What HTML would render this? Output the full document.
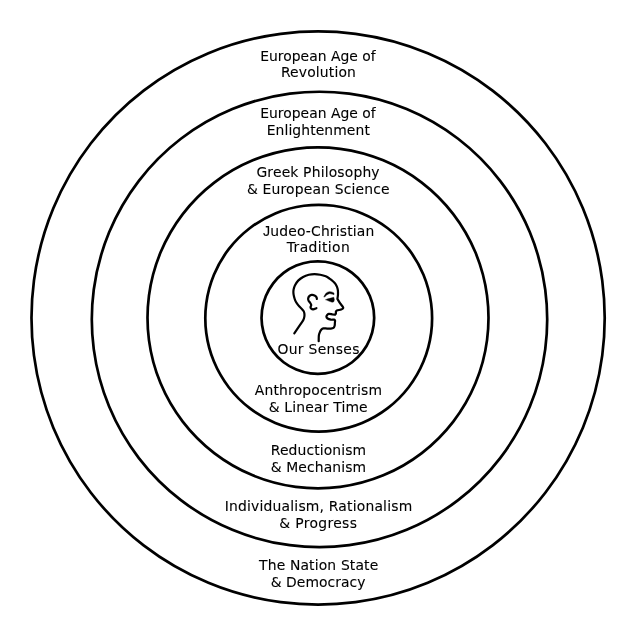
<!DOCTYPE html>
<html><head><meta charset="utf-8">
<style>
html,body{margin:0;padding:0;background:#fff;}
body{width:636px;height:636px;overflow:hidden;}
svg{display:block;will-change:transform;filter:grayscale(1);}
text{font-family:"DejaVu Sans","Liberation Sans",sans-serif;font-size:13.9px;fill:#000;stroke:#000;stroke-width:0.1px;}
</style></head><body>
<svg width="636" height="636" viewBox="0 0 636 636">
<rect width="636" height="636" fill="#fff"/>
<g fill="none" stroke="#000" stroke-width="2.7">
<path d="M602.25 355.41A286.60 286.60 0 0 1 582.88 427.68A286.60 286.60 0 0 1 545.48 492.47A286.60 286.60 0 0 1 492.57 545.38A286.60 286.60 0 0 1 427.78 582.78A286.60 286.60 0 0 1 355.51 602.15A286.60 286.60 0 0 1 280.69 602.15A286.60 286.60 0 0 1 208.42 582.78A286.60 286.60 0 0 1 143.63 545.38A286.60 286.60 0 0 1 90.72 492.47A286.60 286.60 0 0 1 53.32 427.68A286.60 286.60 0 0 1 33.95 355.41A286.60 286.60 0 0 1 33.95 280.59A286.60 286.60 0 0 1 53.32 208.32A286.60 286.60 0 0 1 90.72 143.53A286.60 286.60 0 0 1 143.63 90.62A286.60 286.60 0 0 1 208.42 53.22A286.60 286.60 0 0 1 280.69 33.85A286.60 286.60 0 0 1 355.51 33.85A286.60 286.60 0 0 1 427.78 53.22A286.60 286.60 0 0 1 492.57 90.62A286.60 286.60 0 0 1 545.48 143.53A286.60 286.60 0 0 1 582.88 208.32A286.60 286.60 0 0 1 602.25 280.59A286.60 286.60 0 0 1 602.25 355.41Z"/>
<path d="M545.25 349.17A227.70 227.70 0 0 1 529.87 406.59A227.70 227.70 0 0 1 500.15 458.06A227.70 227.70 0 0 1 458.11 500.10A227.70 227.70 0 0 1 406.64 529.82A227.70 227.70 0 0 1 349.22 545.20A227.70 227.70 0 0 1 289.78 545.20A227.70 227.70 0 0 1 232.36 529.82A227.70 227.70 0 0 1 180.89 500.10A227.70 227.70 0 0 1 138.85 458.06A227.70 227.70 0 0 1 109.13 406.59A227.70 227.70 0 0 1 93.75 349.17A227.70 227.70 0 0 1 93.75 289.73A227.70 227.70 0 0 1 109.13 232.31A227.70 227.70 0 0 1 138.85 180.84A227.70 227.70 0 0 1 180.89 138.80A227.70 227.70 0 0 1 232.36 109.08A227.70 227.70 0 0 1 289.78 93.70A227.70 227.70 0 0 1 349.22 93.70A227.70 227.70 0 0 1 406.64 109.08A227.70 227.70 0 0 1 458.11 138.80A227.70 227.70 0 0 1 500.15 180.84A227.70 227.70 0 0 1 529.87 232.31A227.70 227.70 0 0 1 545.25 289.73A227.70 227.70 0 0 1 545.25 349.17Z"/>
<path d="M487.04 340.10A170.50 170.50 0 0 1 475.52 383.10A170.50 170.50 0 0 1 453.27 421.64A170.50 170.50 0 0 1 421.79 453.12A170.50 170.50 0 0 1 383.25 475.37A170.50 170.50 0 0 1 340.25 486.89A170.50 170.50 0 0 1 295.75 486.89A170.50 170.50 0 0 1 252.75 475.37A170.50 170.50 0 0 1 214.21 453.12A170.50 170.50 0 0 1 182.73 421.64A170.50 170.50 0 0 1 160.48 383.10A170.50 170.50 0 0 1 148.96 340.10A170.50 170.50 0 0 1 148.96 295.60A170.50 170.50 0 0 1 160.48 252.60A170.50 170.50 0 0 1 182.73 214.06A170.50 170.50 0 0 1 214.21 182.58A170.50 170.50 0 0 1 252.75 160.33A170.50 170.50 0 0 1 295.75 148.81A170.50 170.50 0 0 1 340.25 148.81A170.50 170.50 0 0 1 383.25 160.33A170.50 170.50 0 0 1 421.79 182.58A170.50 170.50 0 0 1 453.27 214.06A170.50 170.50 0 0 1 475.52 252.60A170.50 170.50 0 0 1 487.04 295.60A170.50 170.50 0 0 1 487.04 340.10Z"/>
<path d="M431.13 333.00A113.40 113.40 0 0 1 423.47 361.60A113.40 113.40 0 0 1 408.67 387.23A113.40 113.40 0 0 1 387.73 408.17A113.40 113.40 0 0 1 362.10 422.97A113.40 113.40 0 0 1 333.50 430.63A113.40 113.40 0 0 1 303.90 430.63A113.40 113.40 0 0 1 275.30 422.97A113.40 113.40 0 0 1 249.67 408.17A113.40 113.40 0 0 1 228.73 387.23A113.40 113.40 0 0 1 213.93 361.60A113.40 113.40 0 0 1 206.27 333.00A113.40 113.40 0 0 1 206.27 303.40A113.40 113.40 0 0 1 213.93 274.80A113.40 113.40 0 0 1 228.73 249.17A113.40 113.40 0 0 1 249.67 228.23A113.40 113.40 0 0 1 275.30 213.43A113.40 113.40 0 0 1 303.90 205.77A113.40 113.40 0 0 1 333.50 205.77A113.40 113.40 0 0 1 362.10 213.43A113.40 113.40 0 0 1 387.73 228.23A113.40 113.40 0 0 1 408.67 249.17A113.40 113.40 0 0 1 423.47 274.80A113.40 113.40 0 0 1 431.13 303.40A113.40 113.40 0 0 1 431.13 333.00Z"/>
<path d="M373.67 324.95A56.30 56.30 0 0 1 369.86 339.15A56.30 56.30 0 0 1 362.52 351.87A56.30 56.30 0 0 1 352.12 362.27A56.30 56.30 0 0 1 339.40 369.61A56.30 56.30 0 0 1 325.20 373.42A56.30 56.30 0 0 1 310.50 373.42A56.30 56.30 0 0 1 296.30 369.61A56.30 56.30 0 0 1 283.58 362.27A56.30 56.30 0 0 1 273.18 351.87A56.30 56.30 0 0 1 265.84 339.15A56.30 56.30 0 0 1 262.03 324.95A56.30 56.30 0 0 1 262.03 310.25A56.30 56.30 0 0 1 265.84 296.05A56.30 56.30 0 0 1 273.18 283.33A56.30 56.30 0 0 1 283.58 272.93A56.30 56.30 0 0 1 296.30 265.59A56.30 56.30 0 0 1 310.50 261.78A56.30 56.30 0 0 1 325.20 261.78A56.30 56.30 0 0 1 339.40 265.59A56.30 56.30 0 0 1 352.12 272.93A56.30 56.30 0 0 1 362.52 283.33A56.30 56.30 0 0 1 369.86 296.05A56.30 56.30 0 0 1 373.67 310.25A56.30 56.30 0 0 1 373.67 324.95Z"/>
</g>
<g fill="none" stroke="#000" stroke-width="2.2" stroke-linecap="round" stroke-linejoin="round">
<path d="M294.30 333.30 C295.43 331.63 299.58 325.57 301.10 323.30 C302.62 321.03 302.89 320.85 303.44 319.70 C303.99 318.55 304.23 317.42 304.39 316.40 C304.55 315.38 304.51 314.44 304.39 313.58 C304.27 312.72 304.11 312.01 303.68 311.23 C303.25 310.45 302.50 309.66 301.79 308.87 C301.08 308.08 300.22 307.37 299.43 306.50 C298.64 305.63 297.79 304.70 297.08 303.68 C296.37 302.66 295.70 301.56 295.19 300.38 C294.68 299.20 294.30 297.86 294.00 296.60 C293.70 295.34 293.47 294.01 293.40 292.83 C293.33 291.65 293.35 290.72 293.60 289.50 C293.85 288.28 294.14 286.98 294.90 285.50 C295.66 284.02 296.82 282.06 298.18 280.63 C299.54 279.20 301.31 277.93 303.08 276.95 C304.85 275.97 306.89 275.22 308.80 274.74 C310.71 274.26 312.62 274.09 314.53 274.09 C316.44 274.09 318.38 274.37 320.25 274.74 C322.12 275.12 324.22 275.70 325.77 276.34 C327.32 276.98 328.36 277.78 329.55 278.60 C330.75 279.42 331.94 280.34 332.94 281.25 C333.94 282.16 334.89 283.11 335.58 284.08 C336.27 285.05 336.71 286.09 337.09 287.09 C337.47 288.09 337.70 288.87 337.85 290.10 C338.00 291.34 338.07 293.03 338.00 294.50 C337.93 295.97 337.50 298.17 337.40 298.90 C337.87 299.66 339.31 302.14 340.20 303.45 C341.09 304.76 342.26 306.01 342.76 306.75 C343.26 307.49 343.32 307.51 343.20 307.90 C343.08 308.29 342.55 308.80 342.05 309.10 C341.55 309.40 341.06 309.47 340.20 309.70 C339.34 309.93 337.59 310.17 336.87 310.50 C336.15 310.83 336.06 311.22 335.90 311.70 C335.74 312.18 336.03 312.90 335.90 313.40 C335.77 313.90 335.23 314.48 335.10 314.70 C334.71 314.67 333.77 314.65 332.75 314.50 C331.73 314.35 329.88 313.74 328.98 313.78 C328.08 313.82 327.76 314.26 327.33 314.73 C326.90 315.20 326.35 315.97 326.39 316.60 C326.43 317.23 326.82 317.99 327.57 318.50 C328.32 319.01 329.77 319.48 330.87 319.68 C331.97 319.88 333.47 319.51 334.17 319.68 C334.88 319.85 334.95 320.53 335.10 320.70 C335.06 321.08 334.96 322.13 334.88 322.98 C334.80 323.83 334.88 324.98 334.64 325.80 C334.40 326.62 334.09 327.43 333.46 327.90 C332.83 328.37 331.93 328.53 330.87 328.64 C329.81 328.75 328.36 328.59 327.10 328.55 C325.84 328.51 324.25 328.23 323.30 328.40 C322.36 328.57 322.02 328.91 321.43 329.58 C320.84 330.25 320.21 331.38 319.78 332.40 C319.35 333.42 319.02 334.23 318.84 335.70 C318.66 337.17 318.72 340.28 318.70 341.20"/>
<path d="M316.89 298.96 C316.81 298.65 316.81 297.67 316.42 297.08 C316.03 296.49 315.32 295.78 314.53 295.42 C313.74 295.06 312.56 294.83 311.70 294.95 C310.83 295.07 309.93 295.54 309.34 296.13 C308.75 296.72 308.28 297.70 308.16 298.49 C308.04 299.28 308.28 300.10 308.63 300.85 C308.98 301.60 309.85 302.26 310.28 302.97 C310.71 303.68 311.19 304.38 311.23 305.09 C311.27 305.79 310.52 306.61 310.52 307.20 C310.52 307.79 310.80 308.27 311.23 308.63 C311.66 308.99 312.24 309.42 313.10 309.34 C313.97 309.26 315.87 308.36 316.42 308.16"/>
<path d="M324.04 296.61 C324.41 296.02 325.37 293.89 326.25 293.08 C327.13 292.27 328.34 291.91 329.32 291.75 C330.30 291.59 331.38 291.93 332.15 292.13 C332.92 292.33 333.64 292.84 333.94 292.98 L333.94 294.73 C333.64 294.63 332.92 294.29 332.15 294.11 C331.38 293.93 330.19 293.54 329.32 293.64 C328.45 293.74 327.75 294.18 326.96 294.73 C326.17 295.28 324.99 296.57 324.60 296.94Z" fill="#000" stroke-width="0.5"/>
<path d="M325.78 299.58 L329.79 298.36 L333.80 297.23 L334.37 299.68 L333.80 301.80 L332.15 302.27 L328.85 301.09Z" fill="#000" stroke-width="0.4"/>
</g>
<g>
<text x="260.20" y="61.00" textLength="115.55" lengthAdjust="spacing">European Age of</text>
<text x="280.90" y="77.00" textLength="75.00" lengthAdjust="spacing">Revolution</text>
<text x="260.20" y="118.00" textLength="115.55" lengthAdjust="spacing">European Age of</text>
<text x="266.70" y="135.00" textLength="103.13" lengthAdjust="spacing">Enlightenment</text>
<text x="256.45" y="177.00" textLength="123.13" lengthAdjust="spacing">Greek Philosophy</text>
<text x="246.95" y="194.00" textLength="142.69" lengthAdjust="spacing">&amp; European Science</text>
<text x="263.05" y="236.00" textLength="111.20" lengthAdjust="spacing"><tspan font-family="Liberation Sans" font-size="14.2px">J</tspan>udeo-Christian</text>
<text x="286.80" y="252.00" textLength="62.92" lengthAdjust="spacing">Tradition</text>
<text x="277.50" y="354.00" textLength="81.88" lengthAdjust="spacing">Our Senses</text>
<text x="254.80" y="395.00" textLength="127.14" lengthAdjust="spacing">Anthropocentrism</text>
<text x="268.65" y="412.00" textLength="99.02" lengthAdjust="spacing">&amp; Linear Time</text>
<text x="270.75" y="455.00" textLength="95.31" lengthAdjust="spacing">Reductionism</text>
<text x="270.70" y="472.00" textLength="95.41" lengthAdjust="spacing">&amp; Mechanism</text>
<text x="224.75" y="511.00" textLength="187.42" lengthAdjust="spacing">Individualism, Rationalism</text>
<text x="279.20" y="528.00" textLength="77.69" lengthAdjust="spacing">&amp; Progress</text>
<text x="259.05" y="570.00" textLength="119.20" lengthAdjust="spacing">The Nation State</text>
<text x="270.70" y="587.00" textLength="94.73" lengthAdjust="spacing">&amp; Democracy</text>
</g>
</svg>
</body></html>
